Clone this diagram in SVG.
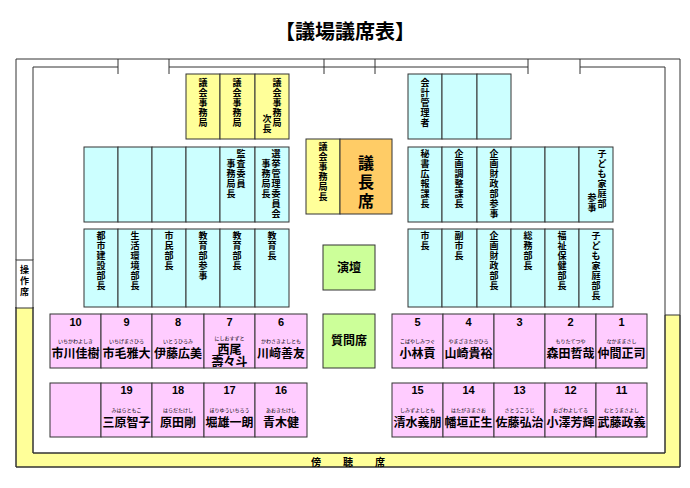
<svg xmlns="http://www.w3.org/2000/svg" width="690" height="488" viewBox="0 0 690 488">
<style>
text{font-family:"Noto Sans CJK JP","Noto Sans CJK SC",sans-serif;font-weight:bold;fill:#000}
.c{fill:#ccffff;stroke:#333;stroke-width:1}
.y{fill:#ffff99;stroke:#333;stroke-width:1}
.p{fill:#ffccff;stroke:#333;stroke-width:1}
.g{fill:#ccff99;stroke:#333;stroke-width:1}
.o{fill:#ffcc66;stroke:#333;stroke-width:1}
.w{fill:#fff;stroke:#333;stroke-width:1}
.ln{fill:none;stroke:#333;stroke-width:1}
.v{font-size:9px;text-anchor:middle}
.n{font-size:11px;text-anchor:middle;font-family:"Liberation Sans",sans-serif}
.f{font-size:5px;text-anchor:middle;font-weight:normal}
.m{font-size:12px;text-anchor:middle}
</style>
<text x="345" y="39" text-anchor="middle" font-size="20">【議場議席表】</text>
<g id="room">
<path class="y" d="M16 307H33V453H665V315H680V467H16Z"/>
<rect class="w" x="16" y="260" width="17" height="48"/>
<path class="ln" d="M16 260V59H680V467H16V307M33 260V67H118M169 67H528M580 67H665V453H33V307M118 59V74M169 59V74M324 59V74M375 59V74M528 59V74M580 59V74"/>
<text class="v" y="264"><tspan x="24.5" dy="9">操</tspan><tspan x="24.5" dy="11">作</tspan><tspan x="24.5" dy="11">席</tspan></text>
<text x="316" y="466" font-size="10" text-anchor="middle">傍</text>
<text x="348" y="466" font-size="10" text-anchor="middle">聴</text>
<text x="380" y="466" font-size="10" text-anchor="middle">席</text>
</g>
<g id="staff-left">
<rect class="y" x="186" y="74" width="34" height="65"/><rect class="y" x="220" y="74" width="35" height="65"/><rect class="y" x="255" y="74" width="34" height="65"/>
<text class="v" y="77"><tspan x="203" dy="9">議</tspan><tspan x="203" dy="10">会</tspan><tspan x="203" dy="10">事</tspan><tspan x="203" dy="10">務</tspan><tspan x="203" dy="10">局</tspan></text>
<text class="v" y="77"><tspan x="237" dy="9">議</tspan><tspan x="237" dy="10">会</tspan><tspan x="237" dy="10">事</tspan><tspan x="237" dy="10">務</tspan><tspan x="237" dy="10">局</tspan></text>
<text class="v" y="77"><tspan x="277" dy="9">議</tspan><tspan x="277" dy="10">会</tspan><tspan x="277" dy="10">事</tspan><tspan x="277" dy="10">務</tspan><tspan x="277" dy="10">局</tspan></text>
<text class="v" y="113"><tspan x="267" dy="9">次</tspan><tspan x="267" dy="10">長</tspan></text>
<rect class="c" x="84" y="147" width="34" height="75"/><rect class="c" x="118" y="147" width="34" height="75"/><rect class="c" x="152" y="147" width="34" height="75"/><rect class="c" x="186" y="147" width="34" height="75"/><rect class="c" x="220" y="147" width="35" height="75"/><rect class="c" x="255" y="147" width="34" height="75"/>
<text class="v" y="148"><tspan x="241" dy="9">監</tspan><tspan x="241" dy="10">査</tspan><tspan x="241" dy="10">委</tspan><tspan x="241" dy="10">員</tspan></text>
<text class="v" y="158"><tspan x="231" dy="9">事</tspan><tspan x="231" dy="10">務</tspan><tspan x="231" dy="10">局</tspan><tspan x="231" dy="10">長</tspan></text>
<text class="v" y="148"><tspan x="276" dy="9">選</tspan><tspan x="276" dy="10">挙</tspan><tspan x="276" dy="10">管</tspan><tspan x="276" dy="10">理</tspan><tspan x="276" dy="10">委</tspan><tspan x="276" dy="10">員</tspan><tspan x="276" dy="10">会</tspan></text>
<text class="v" y="158"><tspan x="266" dy="9">事</tspan><tspan x="266" dy="10">務</tspan><tspan x="266" dy="10">局</tspan><tspan x="266" dy="10">長</tspan></text>
<rect class="c" x="84" y="229" width="34" height="78"/><rect class="c" x="118" y="229" width="34" height="78"/><rect class="c" x="152" y="229" width="34" height="78"/><rect class="c" x="186" y="229" width="34" height="78"/><rect class="c" x="220" y="229" width="35" height="78"/><rect class="c" x="255" y="229" width="34" height="78"/>
<text class="v" y="230"><tspan x="101" dy="9">都</tspan><tspan x="101" dy="10">市</tspan><tspan x="101" dy="10">建</tspan><tspan x="101" dy="10">設</tspan><tspan x="101" dy="10">部</tspan><tspan x="101" dy="10">長</tspan></text>
<text class="v" y="230"><tspan x="135" dy="9">生</tspan><tspan x="135" dy="10">活</tspan><tspan x="135" dy="10">環</tspan><tspan x="135" dy="10">境</tspan><tspan x="135" dy="10">部</tspan><tspan x="135" dy="10">長</tspan></text>
<text class="v" y="230"><tspan x="169" dy="9">市</tspan><tspan x="169" dy="10">民</tspan><tspan x="169" dy="10">部</tspan><tspan x="169" dy="10">長</tspan></text>
<text class="v" y="230"><tspan x="203" dy="9">教</tspan><tspan x="203" dy="10">育</tspan><tspan x="203" dy="10">部</tspan><tspan x="203" dy="10">参</tspan><tspan x="203" dy="10">事</tspan></text>
<text class="v" y="230"><tspan x="237" dy="9">教</tspan><tspan x="237" dy="10">育</tspan><tspan x="237" dy="10">部</tspan><tspan x="237" dy="10">長</tspan></text>
<text class="v" y="230"><tspan x="272" dy="9">教</tspan><tspan x="272" dy="10">育</tspan><tspan x="272" dy="10">長</tspan></text>
</g>
<g id="center">
<rect class="y" x="306" y="139" width="34" height="75"/>
<text class="v" y="141"><tspan x="323" dy="9">議</tspan><tspan x="323" dy="10">会</tspan><tspan x="323" dy="10">事</tspan><tspan x="323" dy="10">務</tspan><tspan x="323" dy="10">局</tspan><tspan x="323" dy="10">長</tspan></text>
<rect class="o" x="340" y="139" width="52" height="75"/>
<text x="366" y="155" font-size="16" text-anchor="middle"><tspan x="366" dy="14">議</tspan><tspan x="366" dy="19">長</tspan><tspan x="366" dy="19">席</tspan></text>
<rect class="g" x="323" y="245" width="52" height="45"/><text x="349" y="272" font-size="12" text-anchor="middle">演壇</text>
<rect class="g" x="323" y="314" width="52" height="54"/><text x="349" y="345" font-size="12" text-anchor="middle">質問席</text>
</g>
<g id="staff-right">
<rect class="c" x="408" y="74" width="34" height="65"/><rect class="c" x="442" y="74" width="35" height="65"/><rect class="c" x="477" y="74" width="34" height="65"/>
<text class="v" y="77"><tspan x="425" dy="9">会</tspan><tspan x="425" dy="10">計</tspan><tspan x="425" dy="10">管</tspan><tspan x="425" dy="10">理</tspan><tspan x="425" dy="10">者</tspan></text>
<rect class="c" x="408" y="147" width="34" height="75"/><rect class="c" x="442" y="147" width="35" height="75"/><rect class="c" x="477" y="147" width="34" height="75"/><rect class="c" x="511" y="147" width="34" height="75"/><rect class="c" x="545" y="147" width="34" height="75"/><rect class="c" x="579" y="147" width="34" height="75"/>
<text class="v" y="148"><tspan x="425" dy="9">秘</tspan><tspan x="425" dy="10">書</tspan><tspan x="425" dy="10">広</tspan><tspan x="425" dy="10">報</tspan><tspan x="425" dy="10">課</tspan><tspan x="425" dy="10">長</tspan></text>
<text class="v" y="148"><tspan x="459" dy="9">企</tspan><tspan x="459" dy="10">画</tspan><tspan x="459" dy="10">調</tspan><tspan x="459" dy="10">整</tspan><tspan x="459" dy="10">課</tspan><tspan x="459" dy="10">長</tspan></text>
<text class="v" y="148"><tspan x="494" dy="9">企</tspan><tspan x="494" dy="10">画</tspan><tspan x="494" dy="10">財</tspan><tspan x="494" dy="10">政</tspan><tspan x="494" dy="10">部</tspan><tspan x="494" dy="10">参</tspan><tspan x="494" dy="10">事</tspan></text>
<text class="v" y="148"><tspan x="602" dy="9">子</tspan><tspan x="602" dy="10">ど</tspan><tspan x="602" dy="10">も</tspan><tspan x="602" dy="10">家</tspan><tspan x="602" dy="10">庭</tspan><tspan x="602" dy="10">部</tspan></text>
<text class="v" y="192"><tspan x="592" dy="9">参</tspan><tspan x="592" dy="10">事</tspan></text>
<rect class="c" x="408" y="229" width="34" height="78"/><rect class="c" x="442" y="229" width="35" height="78"/><rect class="c" x="477" y="229" width="34" height="78"/><rect class="c" x="511" y="229" width="34" height="78"/><rect class="c" x="545" y="229" width="34" height="78"/><rect class="c" x="579" y="229" width="34" height="78"/>
<text class="v" y="230"><tspan x="425" dy="9">市</tspan><tspan x="425" dy="10">長</tspan></text>
<text class="v" y="230"><tspan x="459" dy="9">副</tspan><tspan x="459" dy="10">市</tspan><tspan x="459" dy="10">長</tspan></text>
<text class="v" y="230"><tspan x="494" dy="9">企</tspan><tspan x="494" dy="10">画</tspan><tspan x="494" dy="10">財</tspan><tspan x="494" dy="10">政</tspan><tspan x="494" dy="10">部</tspan><tspan x="494" dy="10">長</tspan></text>
<text class="v" y="230"><tspan x="528" dy="9">総</tspan><tspan x="528" dy="10">務</tspan><tspan x="528" dy="10">部</tspan><tspan x="528" dy="10">長</tspan></text>
<text class="v" y="230"><tspan x="562" dy="9">福</tspan><tspan x="562" dy="10">祉</tspan><tspan x="562" dy="10">保</tspan><tspan x="562" dy="10">健</tspan><tspan x="562" dy="10">部</tspan><tspan x="562" dy="10">長</tspan></text>
<text class="v" y="230"><tspan x="596" dy="9">子</tspan><tspan x="596" dy="10">ど</tspan><tspan x="596" dy="10">も</tspan><tspan x="596" dy="10">家</tspan><tspan x="596" dy="10">庭</tspan><tspan x="596" dy="10">部</tspan><tspan x="596" dy="10">長</tspan></text>
</g>
<g id="seats-left">
<rect class="p" x="50" y="314" width="51" height="54"/><rect class="p" x="101" y="314" width="51" height="54"/><rect class="p" x="152" y="314" width="52" height="54"/><rect class="p" x="204" y="314" width="51" height="54"/><rect class="p" x="255" y="314" width="52" height="54"/>
<text class="n" x="75.5" y="326">10</text><text class="f" x="75.5" y="343">いちかわよしき</text><text class="m" x="75.5" y="358">市川佳樹</text>
<text class="n" x="126.5" y="326">9</text><text class="f" x="126.5" y="343">いちげまさひろ</text><text class="m" x="126.5" y="358">市毛雅大</text>
<text class="n" x="178" y="326">8</text><text class="f" x="178" y="343">いとうひろみ</text><text class="m" x="178" y="358">伊藤広美</text>
<text class="n" x="229.5" y="326">7</text><text class="f" x="229.5" y="340">にしおすずと</text><text class="m" x="229.5" y="354" font-size="10.5">西尾</text><text class="m" x="229.5" y="366" font-size="10.5">壽々斗</text>
<text class="n" x="281" y="326">6</text><text class="f" x="281" y="343">かわさきよしとも</text><text class="m" x="281" y="358">川﨑善友</text>
<rect class="p" x="50" y="383" width="51" height="54"/><rect class="p" x="101" y="383" width="51" height="54"/><rect class="p" x="152" y="383" width="52" height="54"/><rect class="p" x="204" y="383" width="51" height="54"/><rect class="p" x="255" y="383" width="52" height="54"/>
<text class="n" x="126.5" y="394">19</text><text class="f" x="126.5" y="412">みはらともこ</text><text class="m" x="126.5" y="427">三原智子</text>
<text class="n" x="178" y="394">18</text><text class="f" x="178" y="412">はらだたけし</text><text class="m" x="178" y="427">原田剛</text>
<text class="n" x="229.5" y="394">17</text><text class="f" x="229.5" y="412">ほりゆういちろう</text><text class="m" x="229.5" y="427">堀雄一朗</text>
<text class="n" x="281" y="394">16</text><text class="f" x="281" y="412">あおきたけし</text><text class="m" x="281" y="427">青木健</text>
</g>
<g id="seats-right">
<rect class="p" x="392" y="314" width="51" height="54"/><rect class="p" x="443" y="314" width="51" height="54"/><rect class="p" x="494" y="314" width="51" height="54"/><rect class="p" x="545" y="314" width="51" height="54"/><rect class="p" x="596" y="314" width="51" height="54"/>
<text class="n" x="417.5" y="326">5</text><text class="f" x="417.5" y="343">こばやしみつぐ</text><text class="m" x="417.5" y="358">小林貢</text>
<text class="n" x="468.5" y="326">4</text><text class="f" x="468.5" y="343">やまざきたかひろ</text><text class="m" x="468.5" y="358">山崎貴裕</text>
<text class="n" x="519.5" y="326">3</text>
<text class="n" x="570.5" y="326">2</text><text class="f" x="570.5" y="343">もりたてつや</text><text class="m" x="570.5" y="358">森田哲哉</text>
<text class="n" x="621.5" y="326">1</text><text class="f" x="621.5" y="343">なかままさし</text><text class="m" x="621.5" y="358">仲間正司</text>
<rect class="p" x="392" y="383" width="51" height="54"/><rect class="p" x="443" y="383" width="51" height="54"/><rect class="p" x="494" y="383" width="51" height="54"/><rect class="p" x="545" y="383" width="51" height="54"/><rect class="p" x="596" y="383" width="51" height="54"/>
<text class="n" x="417.5" y="394">15</text><text class="f" x="417.5" y="412">しみずよしとも</text><text class="m" x="417.5" y="427">清水義朋</text>
<text class="n" x="468.5" y="394">14</text><text class="f" x="468.5" y="412">はたがきまさお</text><text class="m" x="468.5" y="427">幡垣正生</text>
<text class="n" x="519.5" y="394">13</text><text class="f" x="519.5" y="412">さとうこうじ</text><text class="m" x="519.5" y="427">佐藤弘治</text>
<text class="n" x="570.5" y="394">12</text><text class="f" x="570.5" y="412">おざわよしてる</text><text class="m" x="570.5" y="427">小澤芳輝</text>
<text class="n" x="621.5" y="394">11</text><text class="f" x="621.5" y="412">むとうまさよし</text><text class="m" x="621.5" y="427">武藤政義</text>
</g>
</svg>
